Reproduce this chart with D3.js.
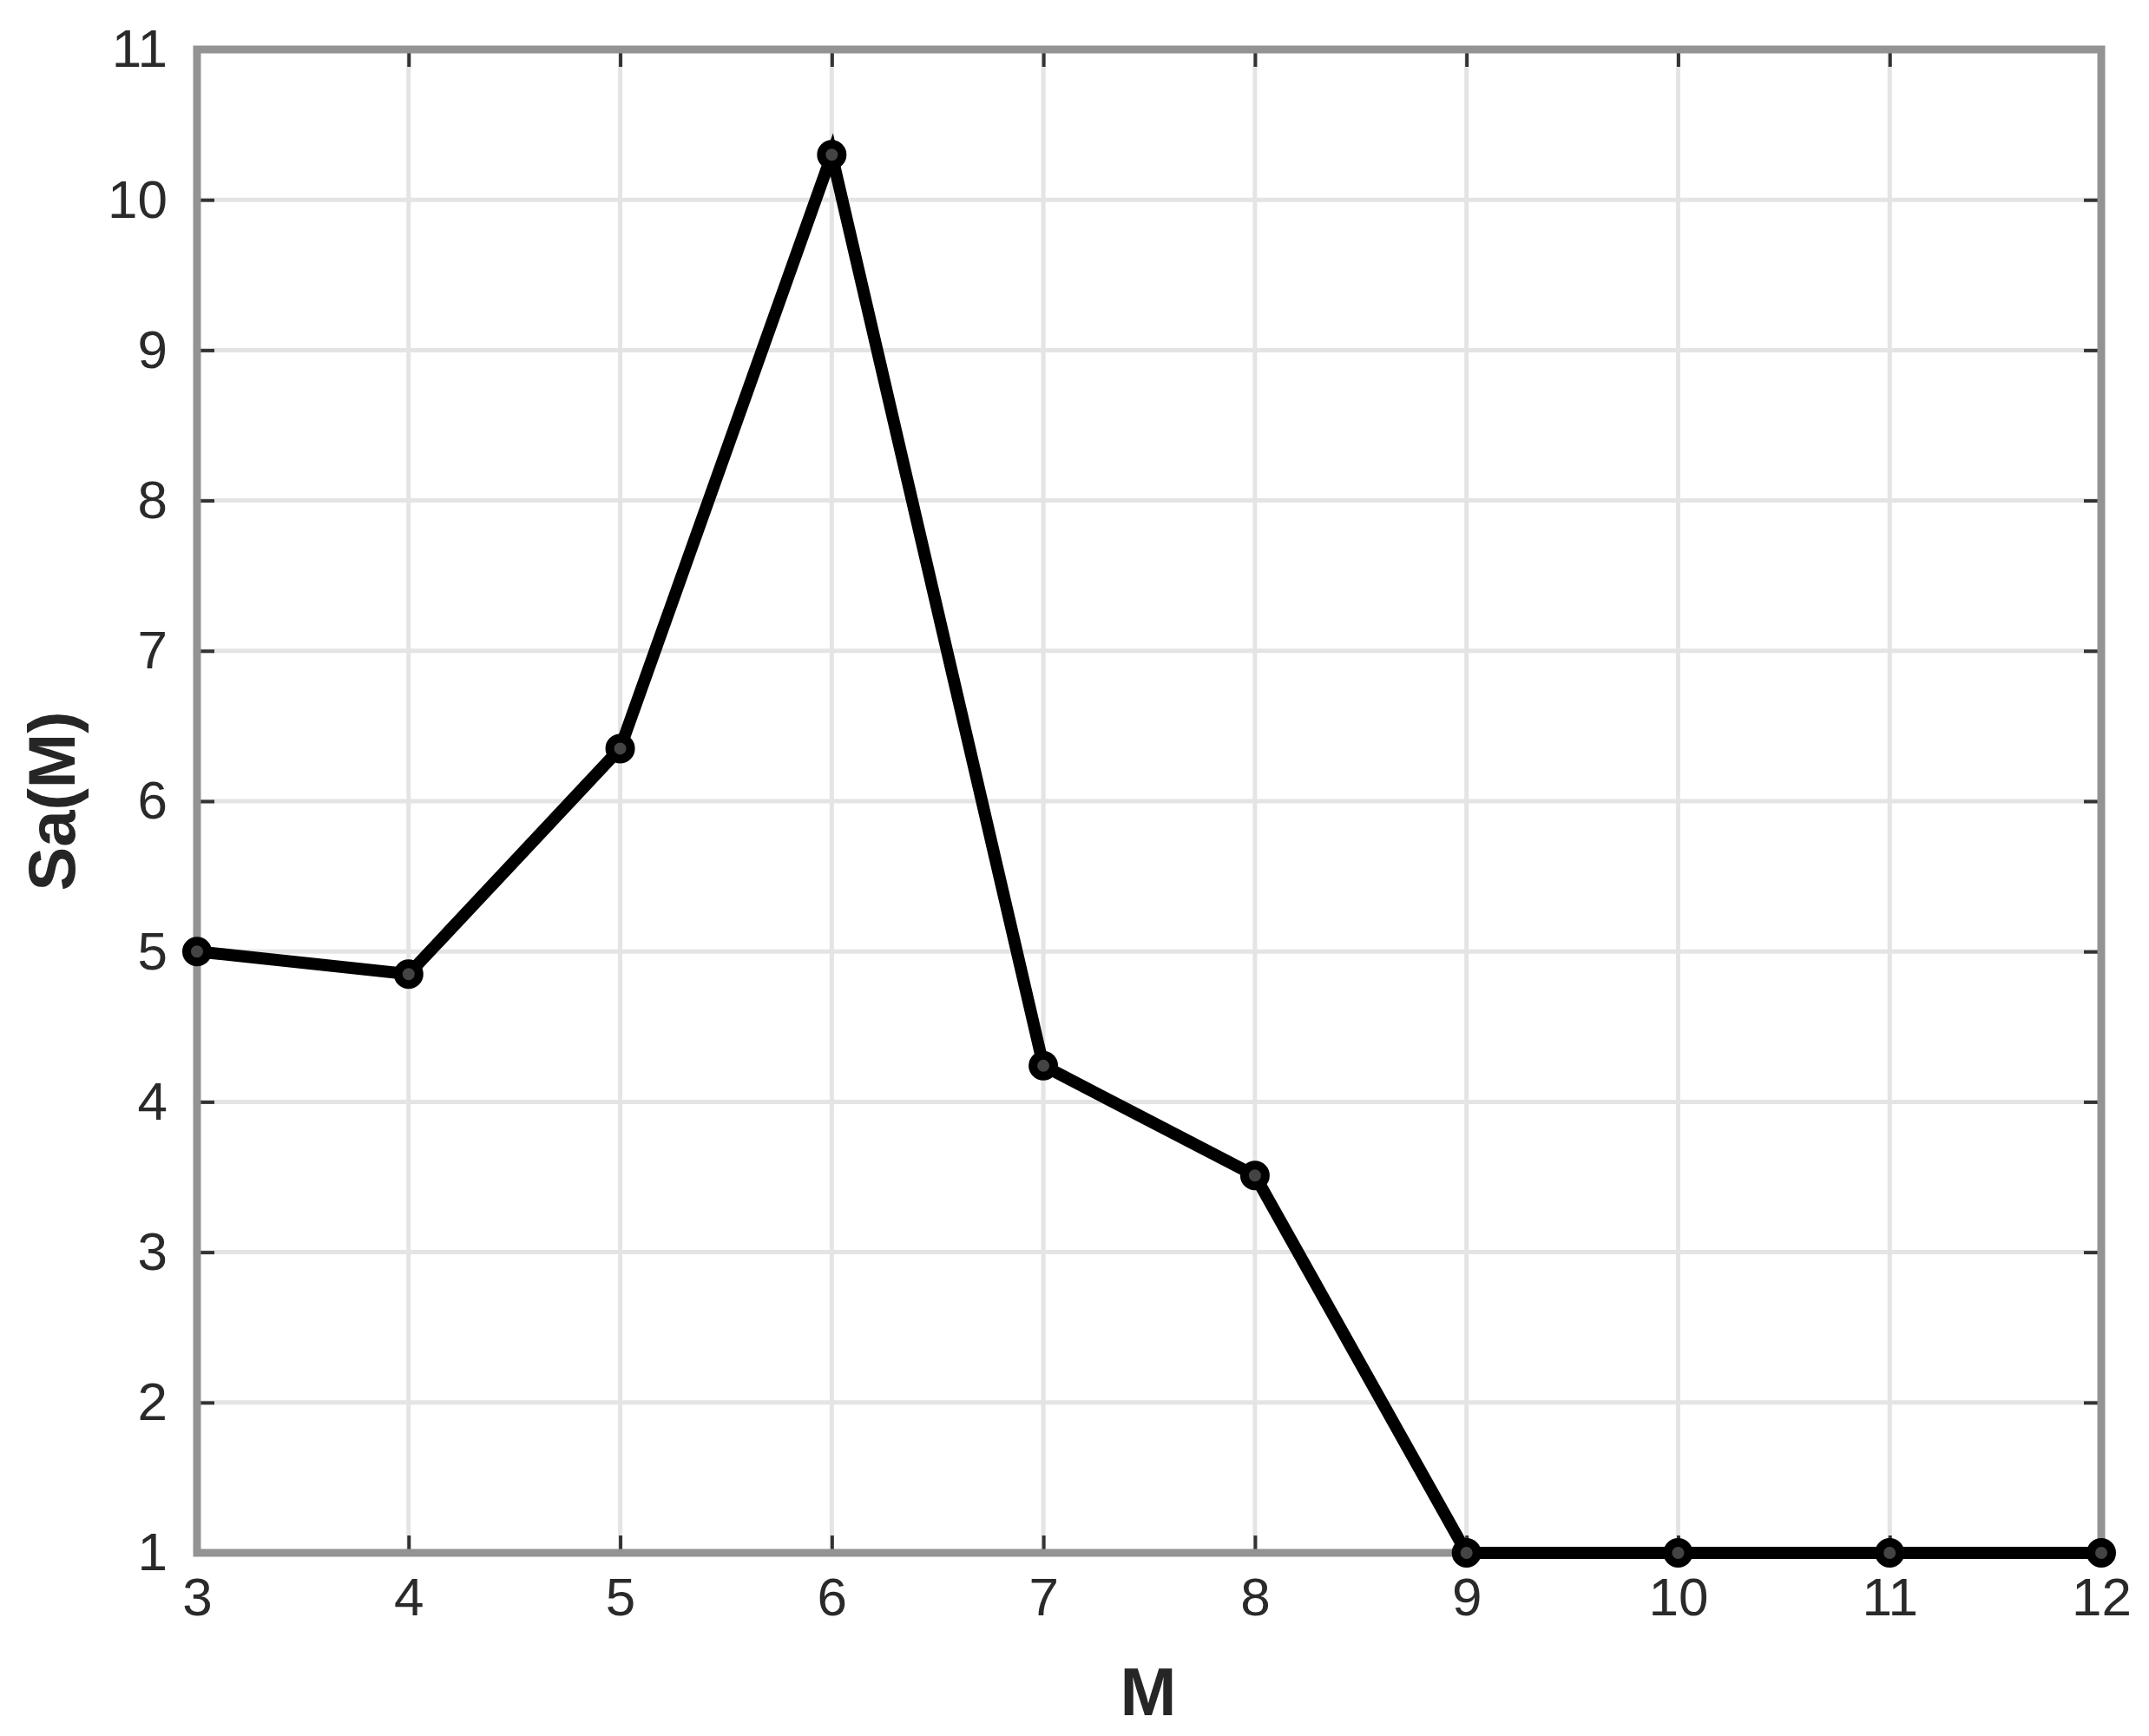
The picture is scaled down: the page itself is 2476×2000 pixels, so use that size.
<!DOCTYPE html>
<html>
<head>
<meta charset="utf-8">
<script src="https://cdn.jsdelivr.net/npm/d3@7"></script>
<style>
  body { margin: 0; background: #fff; }
  text { font-family: "Liberation Sans", Arial, sans-serif; }
</style>
</head>
<body>
<svg id="chart"></svg>
<script>
// values
var mValues = [3, 4, 5, 6, 7, 8, 9, 10, 11, 12];
var saValues = [5.0, 4.85, 6.35, 10.3, 4.24, 3.51, 1, 1, 1, 1];
var xTicks = [3, 4, 5, 6, 7, 8, 9, 10, 11, 12];
var yTicks = [1, 2, 3, 4, 5, 6, 7, 8, 9, 10, 11];

var W = 2476, H = 2000;
var margin = {top: 57, right: 55, bottom: 211, left: 227};
var width = W - margin.left - margin.right,
    height = H - margin.top - margin.bottom;

var svg = d3.select("#chart")
    .attr("width", W)
    .attr("height", H);

var g = svg.append("g")
    .attr("transform", "translate(" + margin.left + "," + margin.top + ")");

var x = d3.scaleLinear().domain([3, 12]).range([0, width]);
var y = d3.scaleLinear().domain([1, 11]).range([height, 0]);

// grid
g.append("g").selectAll("line")
    .data(xTicks)
  .enter().append("line")
    .attr("x1", d => x(d)).attr("x2", d => x(d))
    .attr("y1", 0).attr("y2", height)
    .style("stroke", "#e4e4e4")
    .style("stroke-width", 5);

g.append("g").selectAll("line")
    .data(yTicks)
  .enter().append("line")
    .attr("y1", d => y(d)).attr("y2", d => y(d))
    .attr("x1", 0).attr("x2", width)
    .style("stroke", "#e4e4e4")
    .style("stroke-width", 5);

// axes, ticks pointing inward
var xAxis = d3.axisBottom(x).tickValues(xTicks).tickSize(-20).tickPadding(28).tickFormat(d3.format("d"));
var yAxis = d3.axisLeft(y).tickValues(yTicks).tickSize(-20).tickPadding(34).tickFormat(d3.format("d"));
var xAxisTop = d3.axisTop(x).tickValues(xTicks).tickSize(-20).tickFormat("");
var yAxisRight = d3.axisRight(y).tickValues(yTicks).tickSize(-20).tickFormat("");

g.append("g").attr("class", "axis").attr("transform", "translate(0," + height + ")").call(xAxis);
g.append("g").attr("class", "axis").call(yAxis);
g.append("g").attr("class", "axis").call(xAxisTop);
g.append("g").attr("class", "axis").attr("transform", "translate(" + width + ",0)").call(yAxisRight);

g.selectAll(".axis path").style("display", "none");
g.selectAll(".axis line")
    .style("stroke", "#333")
    .style("stroke-width", 4);
g.selectAll(".axis text")
    .style("font-size", "62px")
    .style("fill", "#2a2a2a");

// box
g.append("rect")
    .attr("x", 0).attr("y", 0)
    .attr("width", width).attr("height", height)
    .style("fill", "none")
    .style("stroke", "#939393")
    .style("stroke-width", 9);

// series
var pts = mValues.map((m, i) => ({m: m, v: saValues[i]}));
var line = d3.line().x(d => x(d.m)).y(d => y(d.v));

g.append("path")
    .datum(pts)
    .attr("d", line)
    .style("fill", "none")
    .style("stroke", "#000")
    .style("stroke-width", 14)
    .style("stroke-linejoin", "miter");

g.selectAll(".pt")
    .data(pts)
  .enter().append("circle")
    .attr("class", "pt")
    .attr("cx", d => x(d.m))
    .attr("cy", d => y(d.v))
    .attr("r", 12)
    .style("fill", "#444")
    .style("stroke", "#000")
    .style("stroke-width", 10);

// axis labels
svg.append("text")
    .attr("x", 1323)
    .attr("y", 1976)
    .attr("text-anchor", "middle")
    .style("font-size", "78px")
    .style("font-weight", "bold")
    .style("fill", "#262626")
    .text("M");

svg.append("text")
    .attr("transform", "translate(86,923) rotate(-90)")
    .attr("text-anchor", "middle")
    .style("font-size", "76px")
    .style("font-weight", "bold")
    .style("fill", "#262626")
    .text("Sa(M)");
</script>
</body>
</html>
